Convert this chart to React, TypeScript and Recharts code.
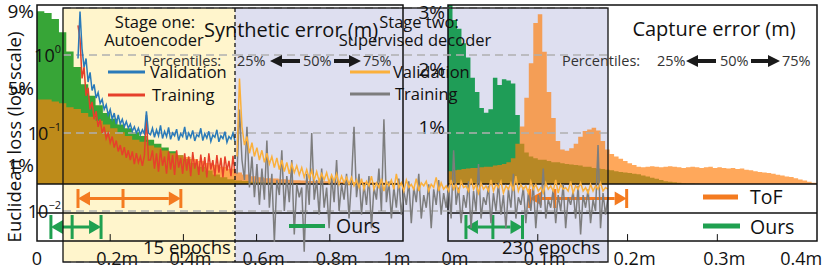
import {
  Area,
  CartesianGrid,
  ComposedChart,
  Line,
  LineChart,
  ReferenceLine,
  XAxis,
  YAxis,
} from "recharts";

const FONT = "'Open Sans', 'DejaVu Sans', sans-serif";
const INK = "#111";
const W = 830;
const H = 270;

// synthetic error histogram, 0.02 m bins, % of samples
const SYN_BIN = 0.02;
const synOurs = [
  9.0, 8.9, 8.6, 7.9, 6.9, 6.1, 5.2, 4.6, 4.1, 3.7,
  3.4, 3.1, 2.9, 2.7, 2.5, 2.3, 2.1, 1.9, 1.7, 1.5,
  1.3, 1.1, 0.9, 0.7, 0.5, 0.35, 0.25, 0.18, 0.15, 0.12,
  0.1, 0.08, 0.07, 0.06, 0.05, 0.04, 0.03, 0.03, 0.02, 0.02,
  0.02, 0.02, 0.01, 0.01, 0.01, 0.01, 0, 0, 0, 0,
];
const synTof = [
  4.4, 4.4, 4.3, 4.2, 4.0, 3.9, 3.7, 3.5, 3.3, 3.1,
  2.9, 2.7, 2.5, 2.3, 2.2, 2.0, 1.9, 1.75, 1.6, 1.5,
  1.4, 1.3, 1.2, 1.1, 1.0, 0.9, 0.8, 0.6, 0.5, 0.4,
  0.35, 0.3, 0.28, 0.25, 0.22, 0.2, 0.18, 0.16, 0.15, 0.14,
  0.13, 0.12, 0.11, 0.1, 0.1, 0.09, 0.08, 0.08, 0.07, 0.07,
];
const SYN_TICKS = [0, 0.2, 0.4, 0.6, 0.8, 1];
const SYN_PCT_TICKS = [1, 5, 9];
const synTofQ = [0.112, 0.235, 0.393];
const synOursQ = [0.038, 0.096, 0.175];

// capture error histogram, 0.005 m bins, % of samples
const CAP_BIN = 0.005;
const capOurs = [
  3.2, 2.85, 2.7, 2.45, 2.2, 1.85, 1.6, 1.32, 1.24, 1.3, 1.85, 1.72, 1.82, 1.8, 1.75, 1.2,
  0.7, 0.55, 0.48, 0.45, 0.42, 0.42, 0.4, 0.38, 0.38, 0.36, 0.35, 0.34, 0.33, 0.32, 0.3, 0.3, 0.28, 0.27, 0.26, 0.25,
  0.24, 0.22, 0.21, 0.2, 0.19, 0.18, 0.17, 0.15, 0.13, 0.11, 0.09, 0.07, 0.05, 0.04, 0.03, 0.02, 0.015, 0.01, 0.01, 0.005,
  0, 0, 0, 0, 0, 0, 0, 0, 0, 0, 0, 0, 0, 0, 0, 0, 0, 0, 0, 0, 0, 0, 0, 0, 0, 0,
];
const capTof = [
  0.22, 0.24, 0.25, 0.26, 0.27, 0.28, 0.28, 0.29, 0.3, 0.3, 0.32, 0.33, 0.35, 0.38, 0.45, 0.7,
  1.0, 1.5, 2.1, 2.8, 2.95, 2.3, 1.6, 1.15, 0.75, 0.6, 0.58, 0.62, 0.7, 0.82, 0.92, 0.95, 0.98, 0.93, 0.75, 0.6,
  0.52, 0.48, 0.44, 0.4, 0.36, 0.33, 0.3, 0.29, 0.3, 0.31, 0.3, 0.29, 0.3, 0.31, 0.3, 0.29, 0.28, 0.29, 0.3, 0.29,
  0.28, 0.29, 0.3, 0.28, 0.29, 0.28, 0.27, 0.28, 0.26, 0.27, 0.25, 0.24, 0.22, 0.21, 0.2, 0.19, 0.18, 0.16, 0.15, 0.13,
  0.12, 0.1, 0.08, 0.06, 0.04, 0.02,
];
const CAP_TICKS = [0, 0.1, 0.2, 0.3, 0.4];
const CAP_PCT_TICKS = [1, 2, 3];
const capTofQ = [0.091, 0.119, 0.199];
const capOursQ = [0.02, 0.05, 0.083];

// training curves, euclidean loss
const stageOneVal = [
  0.9, 3.6, 1.2, 0.7, 0.9, 0.45, 0.6, 0.35, 0.42, 0.28,
  0.33, 0.24, 0.27, 0.2, 0.23, 0.17, 0.2, 0.15, 0.18, 0.13,
  0.17, 0.13, 0.15, 0.12, 0.14, 0.115, 0.13, 0.105, 0.12, 0.1,
  0.115, 0.095, 0.11, 0.098, 0.19, 0.1,
  0.095, 0.115, 0.088, 0.11, 0.092, 0.125, 0.085, 0.105, 0.09, 0.118,
  0.083, 0.1, 0.092, 0.112, 0.08, 0.098, 0.09, 0.12, 0.082, 0.1,
  0.088, 0.108, 0.079, 0.095, 0.09, 0.115, 0.08, 0.098, 0.086, 0.105,
  0.078, 0.094, 0.088, 0.11, 0.077, 0.092, 0.085, 0.104, 0.076, 0.09,
  0.084, 0.1, 0.078,
];
const stageOneTrain = [
  2.4, 1.6, 0.5, 0.7, 0.3, 0.38, 0.2, 0.25, 0.15, 0.19,
  0.12, 0.15, 0.1, 0.12, 0.085, 0.1, 0.075, 0.09, 0.065, 0.08,
  0.058, 0.07, 0.052, 0.066, 0.048, 0.06, 0.045, 0.058, 0.04, 0.055,
  0.042, 0.05, 0.038, 0.052, 0.17, 0.045,
  0.045, 0.06, 0.035, 0.055, 0.032, 0.062, 0.038, 0.05, 0.03, 0.058,
  0.034, 0.052, 0.029, 0.06, 0.036, 0.048, 0.03, 0.055, 0.033, 0.05,
  0.028, 0.057, 0.035, 0.046, 0.029, 0.053, 0.032, 0.049, 0.027, 0.055,
  0.034, 0.045, 0.028, 0.052, 0.031, 0.048, 0.027, 0.05, 0.033, 0.044,
  0.028, 0.051, 0.03,
];
const stageTwoVal = [
  0.05, 0.5, 0.12, 0.07, 0.09, 0.055, 0.075, 0.05, 0.065, 0.045,
  0.06, 0.042, 0.055, 0.04, 0.05, 0.036, 0.048, 0.034, 0.045, 0.032, 0.042, 0.03, 0.04, 0.031, 0.038, 0.029,
  0.036, 0.027, 0.034, 0.026, 0.033, 0.025, 0.032, 0.024, 0.03, 0.025,
  0.031, 0.023, 0.029, 0.024, 0.03, 0.022, 0.028, 0.023, 0.027, 0.022,
  0.027, 0.021, 0.025, 0.02, 0.026, 0.019, 0.024, 0.021, 0.028, 0.019,
  0.023, 0.02, 0.026, 0.018, 0.024, 0.021, 0.025, 0.019, 0.03, 0.02,
  0.023, 0.018, 0.025, 0.02, 0.022, 0.019, 0.026, 0.018, 0.023, 0.021,
  0.024, 0.018, 0.022, 0.02, 0.027, 0.018, 0.023, 0.019, 0.021, 0.018,
  0.025, 0.019, 0.022, 0.017, 0.024, 0.02, 0.021, 0.018, 0.026, 0.019,
  0.022, 0.017, 0.023, 0.019, 0.021, 0.018, 0.025, 0.018, 0.022, 0.02,
  0.024, 0.017, 0.021, 0.019, 0.023, 0.018, 0.028, 0.018, 0.022, 0.019,
  0.021, 0.017, 0.024, 0.019, 0.022, 0.018, 0.02, 0.017, 0.023, 0.019,
  0.021, 0.018, 0.025, 0.017, 0.022, 0.019, 0.02, 0.018, 0.024, 0.017,
  0.021, 0.019, 0.023, 0.018, 0.02, 0.017, 0.022, 0.018, 0.021, 0.019,
  0.023, 0.018, 0.02, 0.019,
];
const stageTwoTrain = [
  0.03, 0.2, 0.045, 0.025, 0.12, 0.02, 0.05, 0.015, 0.04, 0.012,
  0.035, 0.014, 0.08, 0.011, 0.03, 0.004, 0.025, 0.016, 0.06, 0.01, 0.028, 0.013, 0.045, 0.005, 0.022, 0.015,
  0.02, 0.003, 0.03, 0.012, 0.1, 0.014, 0.025, 0.009, 0.035, 0.011,
  0.02, 0.006, 0.028, 0.013, 0.045, 0.01, 0.022, 0.014, 0.03, 0.008,
  0.025, 0.12, 0.015, 0.03, 0.009, 0.022, 0.012, 0.028, 0.006, 0.02,
  0.014, 0.035, 0.01, 0.15, 0.013, 0.024, 0.008, 0.02, 0.011, 0.026,
  0.009, 0.018, 0.012, 0.024, 0.007, 0.02, 0.013, 0.03, 0.008, 0.016,
  0.011, 0.022, 0.006, 0.019, 0.012, 0.025, 0.009, 0.017, 0.011, 0.021,
  0.008, 0.06, 0.012, 0.02, 0.007, 0.016, 0.011, 0.024, 0.006, 0.018,
  0.01, 0.04, 0.008, 0.015, 0.012, 0.021, 0.007, 0.017, 0.01, 0.023,
  0.009, 0.016, 0.006, 0.019, 0.011, 0.03, 0.008, 0.015, 0.012, 0.02,
  0.007, 0.017, 0.01, 0.022, 0.006, 0.016, 0.011, 0.035, 0.008, 0.014,
  0.011, 0.019, 0.007, 0.016, 0.01, 0.022, 0.006, 0.015, 0.012, 0.018,
  0.008, 0.021, 0.005, 0.016, 0.011, 0.019, 0.007, 0.014, 0.01, 0.07,
  0.006, 0.017, 0.009, 0.015,
];
const LOSS_TICKS = [0.01, 0.1, 1];
const LOSS_DOMAIN: [number, number] = [0.00222, 4.0];

const TOF_COLOR = "#f47b20";
const OURS_COLOR = "#1fa050";

type Row = { x: number; ours: number; tof: number };

function histRows(ours: number[], tof: number[], bin: number): Row[] {
  const rows = ours.map((o, i) => ({ x: i * bin, ours: o, tof: tof[i] }));
  rows.push({ x: ours.length * bin, ours: ours[ours.length - 1], tof: tof[tof.length - 1] });
  return rows;
}

const arrowShape = (color: string) => (p: any) => {
  const { x1, y1, x2, y2 } = p;
  const dir = Math.sign(x2 - x1);
  const head = 12;
  return (
    <g>
      <line x1={x1} y1={y1} x2={x2 - dir * head} y2={y2} stroke={color} strokeWidth={3} />
      <polygon points={`${x2},${y2} ${x2 - dir * head},${y2 - 7} ${x2 - dir * head},${y2 + 7}`} fill={color} />
    </g>
  );
};

function Whisker({ q, row, color }: { q: number[]; row: number[]; color: string }) {
  // row = [top, middle, bottom] in the panel's y units
  return (
    <>
      {q.map((v) => (
        <ReferenceLine
          key={v}
          segment={[{ x: v, y: row[0] }, { x: v, y: row[2] }]}
          stroke={color}
          strokeWidth={3}
        />
      ))}
      <ReferenceLine segment={[{ x: q[1], y: row[1] }, { x: q[0], y: row[1] }]} shape={arrowShape(color)} />
      <ReferenceLine segment={[{ x: q[1], y: row[1] }, { x: q[2], y: row[1] }]} shape={arrowShape(color)} />
    </>
  );
}

interface PanelProps {
  left: number;
  right: number;
  data: Row[];
  xMax: number;
  ticks: number[];
  pctTicks: number[];
  yDomain: [number, number];
  tofRow: number[];
  oursRow: number[];
  tofQ: number[];
  oursQ: number[];
  green: string;
  tickLen: number;
  zeroLabel: string;
}

function HistPanel(props: PanelProps) {
  const { left, right, data, xMax, ticks, pctTicks, yDomain, tofRow, oursRow, tofQ, oursQ, green, tickLen, zeroLabel } = props;
  const last = ticks[ticks.length - 1];
  return (
    <ComposedChart width={W} height={H} data={data} margin={{ top: 5, right: W - right, bottom: 9, left: left - 30 }}>
      <XAxis
        type="number"
        dataKey="x"
        domain={[0, xMax]}
        ticks={ticks}
        allowDataOverflow
        height={20}
        axisLine={false}
        tickLine={false}
        interval={0}
        tick={(p: any) => {
          const v = p.payload.value;
          const label = v === 0 ? zeroLabel : `${v}m`;
          const dx = label === "0" ? 0 : v === last ? -6 : 7;
          return (
            <text x={p.x + dx} y={265} textAnchor="middle" fontSize={18} fontFamily={FONT} fill={INK}>
              {label}
            </text>
          );
        }}
      />
      <YAxis
        type="number"
        domain={yDomain}
        ticks={pctTicks}
        allowDataOverflow
        width={30}
        axisLine={false}
        tickLine={false}
        interval={0}
        tick={(p: any) => (
          <text x={p.x + 5} y={p.y} dy={7} textAnchor="end" fontSize={19} fontFamily={FONT} fill={INK}>
            {`${p.payload.value}%`}
          </text>
        )}
      />
      <Area type="stepAfter" dataKey="ours" stroke="none" fill={green} fillOpacity={0.95} isAnimationActive={false} />
      <Area type="stepAfter" dataKey="tof" stroke="none" fill="#ff7f0e" fillOpacity={0.68} isAnimationActive={false} />
      {ticks.slice(1, -1).map((t) => (
        <ReferenceLine key={t} segment={[{ x: t, y: yDomain[0] }, { x: t, y: yDomain[0] + tickLen }]} stroke={INK} strokeWidth={1} />
      ))}
      <Whisker q={tofQ} row={tofRow} color={TOF_COLOR} />
      <Whisker q={oursQ} row={oursRow} color={OURS_COLOR} />
    </ComposedChart>
  );
}

function PowTick(p: any) {
  const exp = Math.round(Math.log10(p.payload.value));
  return (
    <text x={p.x + 6} y={p.y} dy={7} textAnchor="end" fontSize={18} fontFamily={FONT} fill={INK}>
      <tspan>10</tspan>
      <tspan dy={-9} fontSize={11}>{exp === 0 ? "0" : `−${-exp}`}</tspan>
    </text>
  );
}

interface StageProps {
  left: number;
  right: number;
  val: number[];
  train: number[];
  valColor: string;
  trainColor: string;
  showAxis: boolean;
  padLeft: number;
}

function LossStage({ left, right, val, train, valColor, trainColor, showAxis, padLeft }: StageProps) {
  const data = val.map((v, i) => ({ i, val: v, train: train[i] }));
  return (
    <LineChart
      width={W}
      height={H}
      data={data}
      margin={{ top: 8, bottom: 8, left: showAxis ? 0 : left, right: W - right }}
    >
      <CartesianGrid vertical={false} stroke="#b0b0b0" strokeDasharray="8 5" strokeWidth={1.5} />
      <XAxis dataKey="i" hide padding={{ left: padLeft, right: 0 }} />
      <YAxis
        scale="log"
        domain={LOSS_DOMAIN}
        ticks={LOSS_TICKS}
        allowDataOverflow
        hide={!showAxis}
        width={left}
        axisLine={false}
        tickLine={false}
        interval={0}
        tick={PowTick}
      />
      <Line dataKey="train" stroke={trainColor} strokeWidth={1.5} dot={false} isAnimationActive={false} />
      <Line dataKey="val" stroke={valColor} strokeWidth={1.5} dot={false} isAnimationActive={false} />
    </LineChart>
  );
}

function BlockArrow({ tip, tail, y }: { tip: number; tail: number; y: number }) {
  const d = Math.sign(tail - tip);
  const hx = tip + d * 12;
  return (
    <polygon
      points={`${tip},${y} ${hx},${y - 6} ${hx},${y - 2} ${tail},${y - 2} ${tail},${y + 2} ${hx},${y + 2} ${hx},${y + 6}`}
      fill="#1a1a1a"
    />
  );
}

function Percentiles({ x0, p25, a1, p50, a2, p75 }: { x0: number; p25: number; a1: number[]; p50: number; a2: number[]; p75: number }) {
  const y = 66;
  const st = { fontSize: 14.5, fontFamily: FONT, fill: "#333" };
  return (
    <g>
      <text x={x0} y={y} {...st}>Percentiles:</text>
      <text x={p25} y={y} {...st}>25%</text>
      <BlockArrow tip={a1[0]} tail={a1[1]} y={61} />
      <text x={p50} y={y} {...st}>50%</text>
      <BlockArrow tip={a2[1]} tail={a2[0]} y={61} />
      <text x={p75} y={y} {...st}>75%</text>
    </g>
  );
}

const layer: React.CSSProperties = { position: "absolute", left: 0, top: 0 };

export default function App() {
  const synData = histRows(synOurs, synTof, SYN_BIN);
  const capData = histRows(capOurs, capTof, CAP_BIN);
  const txt = { fontFamily: FONT, fill: INK };
  return (
    <div style={{ position: "absolute", left: 0, top: 0, width: W, height: H, background: "#fff", overflow: "hidden" }}>
      <div style={{ ...layer, left: 63, top: 8, width: 172, height: 254, background: "#fff5cc" }} />
      <div style={{ ...layer, left: 235, top: 8, width: 373, height: 254, background: "#dedff0" }} />

      <div style={layer}>
        <HistPanel
          left={37}
          right={403}
          data={synData}
          xMax={1}
          ticks={SYN_TICKS}
          pctTicks={SYN_PCT_TICKS}
          yDomain={[-2.969, 9.323]}
          tofRow={[-0.26, -0.755, -1.25]}
          oursRow={[-1.615, -2.24, -2.865]}
          tofQ={synTofQ}
          oursQ={synOursQ}
          green="#2ca02c"
          tickLen={0.36}
          zeroLabel="0"
        />
      </div>
      <div style={layer}>
        <HistPanel
          left={448}
          right={817}
          data={capData}
          xMax={0.411}
          ticks={CAP_TICKS}
          pctTicks={CAP_PCT_TICKS}
          yDomain={[-0.991, 3.113]}
          tofRow={[-0.087, -0.252, -0.417]}
          oursRow={[-0.539, -0.748, -0.957]}
          tofQ={capTofQ}
          oursQ={capOursQ}
          green="#14994e"
          tickLen={0.12}
          zeroLabel="0m"
        />
      </div>

      <svg width={W} height={H} style={layer}>
        <g fill="none" stroke={INK} strokeWidth={1.5}>
          <rect x={37} y={5} width={366} height={236} />
          <line x1={37} y1={184} x2={403} y2={184} />
          <line x1={37} y1={213} x2={403} y2={213} />
          <rect x={448} y={5} width={369} height={236} />
          <line x1={448} y1={184} x2={817} y2={184} />
          <line x1={448} y1={213} x2={817} y2={213} />
        </g>
      </svg>

      <div style={layer}>
        <LossStage left={63} right={235} val={stageOneVal} train={stageOneTrain} valColor="#2a7ab9" trainColor="#e6402b" showAxis padLeft={15} />
      </div>
      <div style={layer}>
        <LossStage left={235} right={608} val={stageTwoVal} train={stageTwoTrain} valColor="#fbb03b" trainColor="#7d7d7d" showAxis={false} padLeft={2} />
      </div>

      <svg width={W} height={H} style={layer}>
        <rect x={63} y={8} width={545} height={254} fill="none" stroke={INK} strokeWidth={1.3} />
        <line x1={235} y1={8} x2={235} y2={262} stroke={INK} strokeWidth={1.3} strokeDasharray="4 3" />

        <text x={15} y={137} transform="rotate(-90 15 137)" dy={6} textAnchor="middle" fontSize={18.5} {...txt}>
          Euclidean loss (log scale)
        </text>

        <text x={291} y={37} textAnchor="middle" fontSize={20} {...txt}>Synthetic error (m)</text>
        <text x={714} y={36} textAnchor="middle" fontSize={20} {...txt}>Capture error (m)</text>

        <text x={155} y={28} textAnchor="middle" fontSize={16.5} {...txt}>Stage one:</text>
        <text x={154} y={46} textAnchor="middle" fontSize={16.5} {...txt}>Autoencoder</text>
        <text x={419} y={28} textAnchor="middle" fontSize={16.5} {...txt}>Stage two:</text>
        <text x={415} y={46} textAnchor="middle" fontSize={16.5} {...txt}>Supervised decoder</text>

        <Percentiles x0={143} p25={237} a1={[270, 300]} p50={303} a2={[334, 361]} p75={363} />
        <Percentiles x0={562} p25={657} a1={[686, 716]} p50={720} a2={[751, 780]} p75={782} />

        <line x1={108} y1={72} x2={145} y2={72} stroke="#2a7ab9" strokeWidth={3} />
        <text x={150} y={78} fontSize={16.5} {...txt}>Validation</text>
        <line x1={108} y1={95} x2={145} y2={95} stroke="#e6402b" strokeWidth={3} />
        <text x={152} y={101} fontSize={16.5} {...txt}>Training</text>
        <line x1={350} y1={72} x2={390} y2={72} stroke="#fbb03b" strokeWidth={3} />
        <text x={393} y={78} fontSize={16.5} {...txt}>Validation</text>
        <line x1={350} y1={94} x2={390} y2={94} stroke="#7d7d7d" strokeWidth={3} />
        <text x={395} y={100} fontSize={16.5} {...txt}>Training</text>

        <text x={143} y={254} fontSize={18.5} {...txt}>15 epochs</text>
        <text x={502} y={254} fontSize={18.5} {...txt}>230 epochs</text>

        <line x1={289} y1={226} x2={325} y2={226} stroke={OURS_COLOR} strokeWidth={4} />
        <text x={336} y={233} fontSize={19.5} {...txt}>Ours</text>
        <line x1={703} y1={197} x2={738} y2={197} stroke={TOF_COLOR} strokeWidth={5} />
        <text x={750} y={204} fontSize={19.5} {...txt}>ToF</text>
        <line x1={703} y1={226} x2={740} y2={226} stroke={OURS_COLOR} strokeWidth={5} />
        <text x={750} y={234} fontSize={19.5} {...txt}>Ours</text>
      </svg>
    </div>
  );
}
